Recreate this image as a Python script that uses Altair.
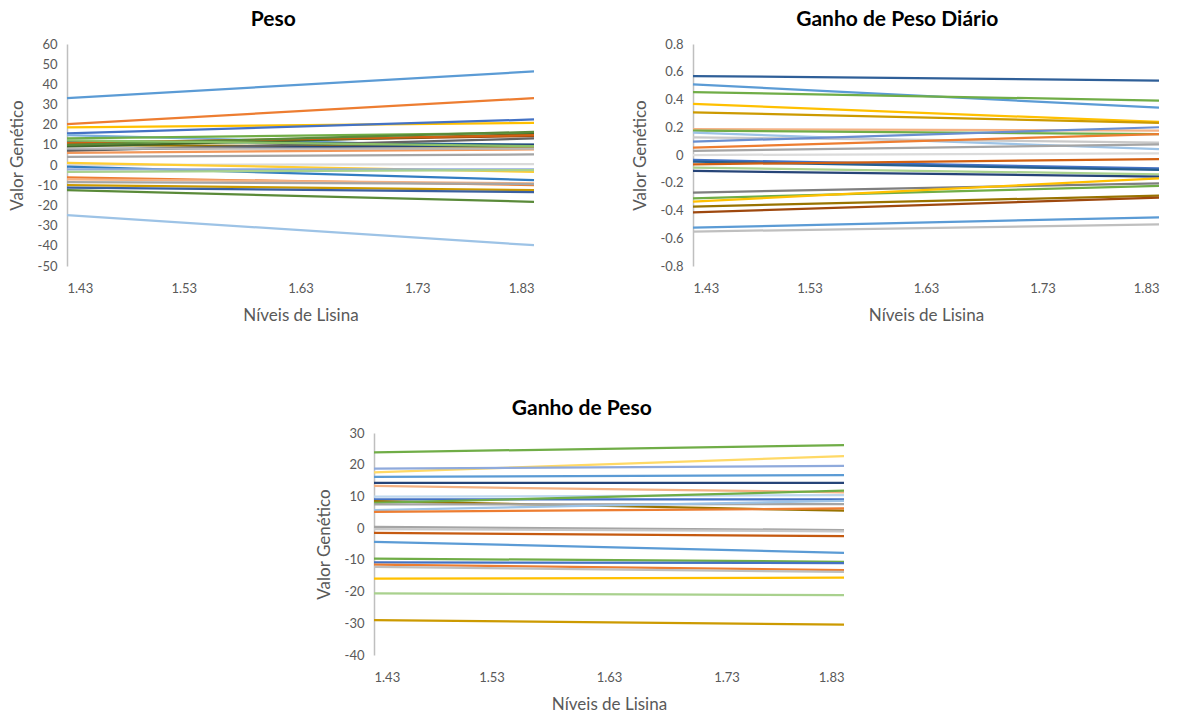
import altair as alt
import pandas as pd

X_START = 1.43
X_END = 1.83
X_TICKS = [1.43, 1.53, 1.63, 1.73, 1.83]

# ---------------- Peso ----------------
peso_start = [33.2, 20.3, 18.7, 15.7, 14.9, 13.2, 12.0, 10.7, 9.9, 9.1, 7.8, 7.1, 6.1,
              11.0, 10.0, 12.3, 8.2, 4.1, 0.0, 1.1, -0.8, -2.1, -3.3, -6.1, -7.1,
              -8.4, -9.9, -11.2, -12.4, -24.8]
peso_end = [46.4, 33.2, 20.9, 22.6, 8.6, 16.0, 10.2, 14.4, 9.0, 15.3, 10.0, 13.2, 7.8,
            14.8, 16.5, 9.4, 8.2, 5.3, 0.5, -3.3, -7.4, -2.1, -2.5, -9.9, -9.0,
            -9.4, -12.4, -13.4, -18.2, -39.7]
peso_colors = ["#5B9BD5", "#ED7D31", "#FFC000", "#4472C4", "#7CAFDD", "#70AD47",
               "#255E91", "#9E480E", "#997300", "#43682B", "#264478", "#636363",
               "#F1975A", "#D26012", "#5A8A39", "#8CC168", "#B7B7B7", "#A5A5A5",
               "#DBDBDB", "#FFCD33", "#327DC2", "#8FAADC", "#A9D18E", "#ED7D31",
               "#F4B183", "#A5A5A5", "#CC9A00", "#3A5FA0", "#5A8A39", "#9DC3E6"]

# ---------------- Ganho de Peso Diário ----------------
gpd_start = [0.569, 0.509, 0.454, 0.368, 0.307, 0.187, 0.175, 0.161, 0.127, 0.096,
             0.053, 0.029, 0.0, -0.036, -0.048, -0.067, -0.091, -0.115, -0.271,
             -0.312, -0.336, -0.372, -0.413, -0.524, -0.552]
gpd_end = [0.536, 0.341, 0.392, 0.238, 0.232, 0.175, 0.151, 0.043, 0.09, 0.200,
           0.151, 0.077, 0.012, -0.096, -0.108, -0.029, -0.139, -0.156, -0.204,
           -0.223, -0.168, -0.293, -0.308, -0.449, -0.500]
gpd_colors = ["#2F5F98", "#5B9BD5", "#70AD47", "#FFC000", "#CC9A00", "#F4B183",
              "#70AD47", "#9DC3E6", "#C9C9C9", "#698ED0", "#ED7D31", "#A5A5A5",
              "#DBDBDB", "#4472C4", "#255E91", "#D26012", "#A9D18E", "#264478",
              "#7F7F7F", "#70AD47", "#FFC000", "#997300", "#9E480E", "#5B9BD5",
              "#BFBFBF"]

# ---------------- Ganho de Peso ----------------
gp_start = [23.9, 17.6, 18.8, 16.2, 14.3, 13.3, 9.9, 9.1, 8.5, 8.0, 7.5, 5.7, 5.1,
            0.4, -0.3, -1.5, -4.3, -9.6, -10.8, -11.5, -12.2, -15.9, -20.6, -29.0]
gp_end = [26.2, 22.7, 19.6, 16.7, 14.3, 11.3, 10.4, 9.1, 5.5, 11.8, 7.6, 8.6, 6.2,
          -0.6, -1.0, -2.5, -7.8, -10.6, -11.0, -13.2, -13.8, -15.6, -21.1, -30.4]
gp_colors = ["#70AD47", "#FFD966", "#8FAADC", "#5B9BD5", "#264478", "#F4B183",
             "#BDD7EE", "#4472C4", "#997300", "#70AD47", "#A5A5A5", "#9DC3E6",
             "#ED7D31", "#A5A5A5", "#C9C9C9", "#C55A11", "#5B9BD5", "#70AD47",
             "#4472C4", "#ED7D31", "#BFBFBF", "#FFC000", "#A9D18E", "#CC9A00"]

FONT = "Lato"
GRAY = "#595959"


def make_df(starts, ends, colors):
    rows = []
    for i, (s, e, c) in enumerate(zip(starts, ends, colors)):
        rows.append({"serie": f"s{i}", "x": X_START, "y": s, "cor": c, "ordem": 0})
        rows.append({"serie": f"s{i}", "x": X_END, "y": e, "cor": c, "ordem": 1})
    return pd.DataFrame(rows)


def panel(df, title, ydomain, yticks, width, height):
    return alt.Chart(df).mark_line(strokeWidth=2.25).encode(
        x=alt.X("x:Q",
                scale=alt.Scale(domain=[X_START, X_END], nice=False, zero=False),
                axis=alt.Axis(values=X_TICKS, format=".2f", title="Níveis de Lisina",
                              domain=False, ticks=False, grid=False,
                              labelPadding=16, titlePadding=12,
                              labelColor=GRAY, titleColor=GRAY,
                              labelFontSize=13, titleFontSize=17,
                              titleFontWeight="normal", labelFont=FONT, titleFont=FONT)),
        y=alt.Y("y:Q",
                scale=alt.Scale(domain=ydomain, nice=False, zero=False),
                axis=alt.Axis(values=yticks, title="Valor Genético",
                              labelExpr="toString(datum.value)",
                              domain=True, domainColor="#BFBFBF", domainWidth=1.5,
                              ticks=False, grid=False,
                              labelPadding=10, titlePadding=11,
                              labelColor=GRAY, titleColor=GRAY,
                              labelFontSize=13, titleFontSize=17,
                              titleFontWeight="normal", labelFont=FONT, titleFont=FONT)),
        color=alt.Color("cor:N", scale=None, legend=None),
        detail="serie:N",
        order="ordem:Q",
    ).properties(
        width=width, height=height,
        title=alt.TitleParams(title, fontSize=21, fontWeight="bold", font=FONT,
                              color="black", offset=8, frame="bounds", anchor="middle"),
    )


peso_ticks = [60, 50, 40, 30, 20, 10, 0, -10, -20, -30, -40, -50]
gpd_ticks = [0.8, 0.6, 0.4, 0.2, 0, -0.2, -0.4, -0.6, -0.8]
gp_ticks = [30, 20, 10, 0, -10, -20, -30, -40]

p1 = panel(make_df(peso_start, peso_end, peso_colors), "Peso", [-50, 60], peso_ticks, 467, 222)
p2 = panel(make_df(gpd_start, gpd_end, gpd_colors), "Ganho de Peso Diário", [-0.8, 0.8], gpd_ticks, 466, 222)
p3 = panel(make_df(gp_start, gp_end, gp_colors), "Ganho de Peso", [-40, 30], gp_ticks, 470, 222)

# invisible spacer to place the bottom panel
spacer = alt.Chart(pd.DataFrame({"v": [0]})).mark_point(opacity=0).encode(
    x=alt.value(0), y=alt.value(0)
).properties(width=248, height=1)

top = alt.hconcat(p1, p2, spacing=92)
bottom = alt.hconcat(spacer, p3, spacing=0)
chart = alt.vconcat(top, bottom, spacing=75).properties(
    padding={"left": 8, "top": 9, "right": 5, "bottom": 5}
).configure_view(strokeWidth=0)

chart.save("out.html", embed_options={"renderer": "svg", "actions": False})
